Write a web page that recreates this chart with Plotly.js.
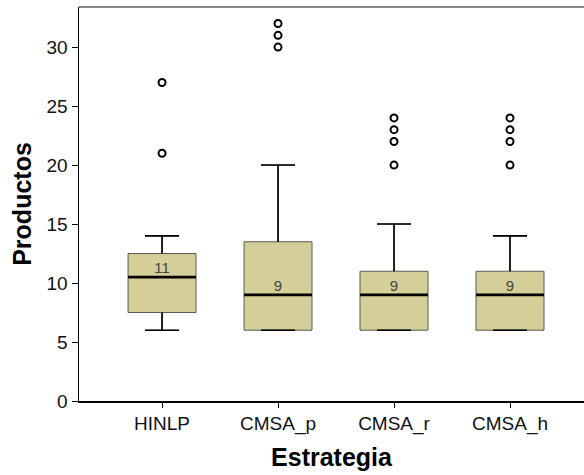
<!DOCTYPE html>
<html>
<head>
<meta charset="utf-8">
<script src="https://cdn.plot.ly/plotly-3.0.1.min.js"></script>
<style>html,body{margin:0;padding:0;background:#fff;}#chart{width:584px;height:475px;}</style>
</head>
<body>
<div id="chart"></div>
<script>
var categories = ['HINLP', 'CMSA_p', 'CMSA_r', 'CMSA_h'];
var q1Values = [7.5, 6, 6, 6];
var medianValues = [10.5, 9, 9, 9];
var q3Values = [12.5, 13.5, 11, 11];
var lowerWhisker = [6, 6, 6, 6];
var upperWhisker = [14, 20, 15, 14];
var outlierValues = [[21, 27], [30, 31, 32], [20, 22, 23, 24], [20, 22, 23, 24]];
var medianLabels = ['11', '9', '9', '9'];
var yTicks = [0, 5, 10, 15, 20, 25, 30];

var pos = categories.map(function (c, i) { return i; });
var boxHalf = 0.293;
var capHalf = 0.147;

var traces = [];
traces.push({
  type: 'box',
  x: pos,
  q1: q1Values,
  median: medianValues,
  q3: q3Values,
  lowerfence: lowerWhisker,
  upperfence: upperWhisker,
  width: boxHalf * 2,
  whiskerwidth: 0.5,
  fillcolor: '#d4cf99',
  line: {color: '#5a5a50', width: 1},
  boxpoints: false,
  hoverinfo: 'skip',
  showlegend: false
});

// whiskers (black)
var wx = [], wy = [];
pos.forEach(function (p, i) {
  wx.push(p, p, null, p - capHalf, p + capHalf, null);
  wy.push(q3Values[i], upperWhisker[i], null, upperWhisker[i], upperWhisker[i], null);
  wx.push(p, p, null, p - capHalf, p + capHalf, null);
  wy.push(q1Values[i], lowerWhisker[i], null, lowerWhisker[i], lowerWhisker[i], null);
});
traces.push({type: 'scatter', mode: 'lines', x: wx, y: wy, line: {color: '#000', width: 1.6}, hoverinfo: 'skip', showlegend: false});

// medians (thick black)
var mx = [], my = [];
pos.forEach(function (p, i) {
  mx.push(p - boxHalf, p + boxHalf, null);
  my.push(medianValues[i], medianValues[i], null);
});
traces.push({type: 'scatter', mode: 'lines', x: mx, y: my, line: {color: '#000', width: 2.6}, hoverinfo: 'skip', showlegend: false});

// median labels
traces.push({
  type: 'scatter', mode: 'text', x: pos, y: medianValues, text: medianLabels,
  textposition: 'top center',
  textfont: {family: 'Liberation Sans, Arial, sans-serif', size: 15, color: '#444'},
  hoverinfo: 'skip', showlegend: false
});

// outliers
var ox = [], oy = [];
outlierValues.forEach(function (arr, i) {
  arr.forEach(function (v) { ox.push(pos[i]); oy.push(v); });
});
traces.push({
  type: 'scatter', mode: 'markers', x: ox, y: oy,
  marker: {symbol: 'circle-open', size: 7, color: '#000', line: {width: 2, color: '#000'}},
  hoverinfo: 'skip', showlegend: false
});

var layout = {
  width: 584, height: 475,
  margin: {l: 79, r: 0, t: 7, b: 74},
  paper_bgcolor: '#fff', plot_bgcolor: '#fff',
  font: {family: 'Liberation Sans, Arial, sans-serif', color: '#111'},
  xaxis: {
    range: [-0.716, 3.638],
    tickmode: 'array', tickvals: pos, ticktext: categories,
    ticks: 'outside', ticklen: 5, tickcolor: '#000', tickwidth: 1,
    tickfont: {size: 19, color: '#111'},
    showgrid: false, zeroline: false,
    showline: true, linecolor: '#000', linewidth: 1.5,
    title: {text: '<b>Estrategia</b>', font: {size: 25, color: '#000'}, standoff: 14}
  },
  yaxis: {
    range: [0, 33.4],
    tickmode: 'array', tickvals: yTicks,
    ticks: 'outside', ticklen: 6, tickcolor: '#000', tickwidth: 1,
    tickfont: {size: 19, color: '#111'},
    showgrid: false, zeroline: false,
    showline: true, linecolor: '#000', linewidth: 1.5,
    title: {text: '<b>Productos</b>', font: {size: 25, color: '#000'}, standoff: 8}
  },
  shapes: [{type: 'line', xref: 'paper', yref: 'paper', x0: 0, x1: 1, y0: 1, y1: 1, line: {color: '#888', width: 2}}]
};

Plotly.newPlot('chart', traces, layout, {displayModeBar: false, staticPlot: true});
</script>
</body>
</html>
